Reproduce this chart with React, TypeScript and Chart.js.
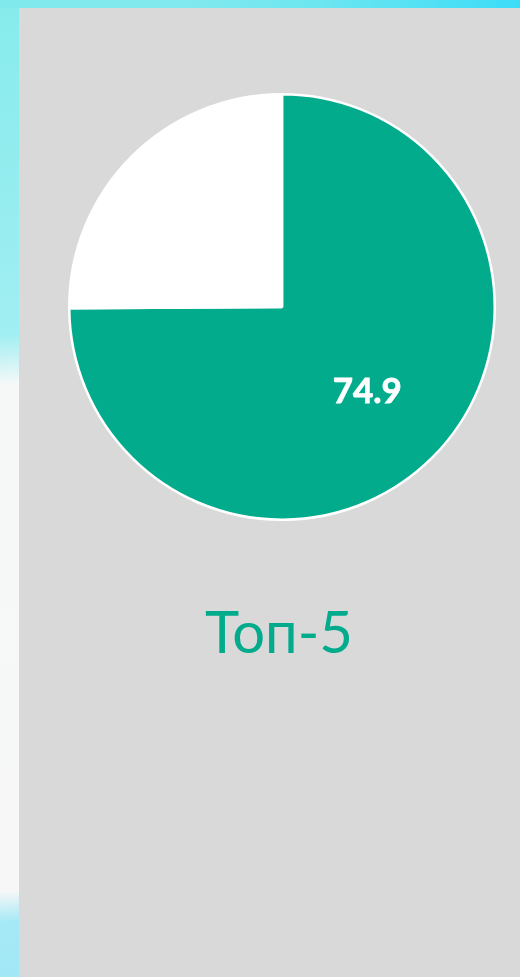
import React, { useEffect, useRef } from "react";
import { Chart, registerables } from "chart.js";

Chart.register(...registerables);

const categories = ["Топ-5", "Остальные"];
const values = [74.9, 25.1];
const labelText = ["74.9", ""];
const titleText = "Топ-5";

const GREEN = "#02ab8c";

const labelPlugin = {
  id: "sliceLabels",
  afterDatasetsDraw(chart: any) {
    const ctx = chart.ctx;
    const meta = chart.getDatasetMeta(0);
    meta.data.forEach((arc: any, i: number) => {
      const t = labelText[i];
      if (!t) return;
      const p = arc.getProps(["x", "y", "startAngle", "endAngle", "outerRadius"], true);
      const mid = (p.startAngle + p.endAngle) / 2;
      const r = p.outerRadius * 0.565;
      ctx.save();
      ctx.fillStyle = "#ffffff";
      ctx.font = "bold 35px Lato, sans-serif";
      ctx.textAlign = "center";
      ctx.textBaseline = "middle";
      ctx.lineWidth = 0.8;
      ctx.strokeStyle = "#ffffff";
      const x = p.x + Math.cos(mid) * r;
      const y = p.y + Math.sin(mid) * r;
      ctx.fillText(t, x, y);
      ctx.strokeText(t, x, y);
      ctx.restore();
    });
  },
};

export default function App() {
  const ref = useRef<HTMLCanvasElement>(null);
  useEffect(() => {
    if (!ref.current) return;
    const chart = new Chart(ref.current, {
      type: "pie",
      data: {
        labels: categories,
        datasets: [
          {
            data: values,
            backgroundColor: [GREEN, "#ffffff"],
            borderColor: "#ffffff",
            borderWidth: 2.5,
          },
        ],
      },
      options: {
        animation: false,
        responsive: false,
        maintainAspectRatio: false,
        layout: { padding: 0 },
        plugins: {
          legend: { display: false },
          tooltip: { enabled: false },
          title: { display: false },
        },
      },
      plugins: [labelPlugin],
    });
    return () => chart.destroy();
  }, []);

  return (
    <div
      style={{
        position: "absolute",
        left: 0,
        top: 0,
        width: 520,
        height: 977,
        overflow: "hidden",
        background:
          "linear-gradient(176deg, #86ebec 0%, #a0eef2 33%, #f6f8f8 38%, #f7f7f7 88%, #a6e9f6 91%, #9ee6f4 100%)",
      }}
    >
      <div
        style={{
          position: "absolute",
          left: 0,
          top: 0,
          width: 520,
          height: 8,
          background: "linear-gradient(90deg, #80e9ec 0%, #7ee8ee 40%, #6ee6f0 60%, #3cdcf8 100%)",
        }}
      />
      <div
        style={{
          position: "absolute",
          left: 19,
          top: 8,
          width: 501,
          height: 969,
          background: "#d9d9d9",
        }}
      />
      <canvas
        ref={ref}
        width={428}
        height={428}
        style={{ position: "absolute", left: 68, top: 93, width: 428, height: 428 }}
      />
      <div
        style={{
          position: "absolute",
          left: 179,
          width: 200,
          top: 595,
          textAlign: "center",
          fontFamily: "Lato, sans-serif",
          fontSize: 58,
          color: GREEN,
          lineHeight: "72px",
        }}
      >
        {titleText}
      </div>
    </div>
  );
}
